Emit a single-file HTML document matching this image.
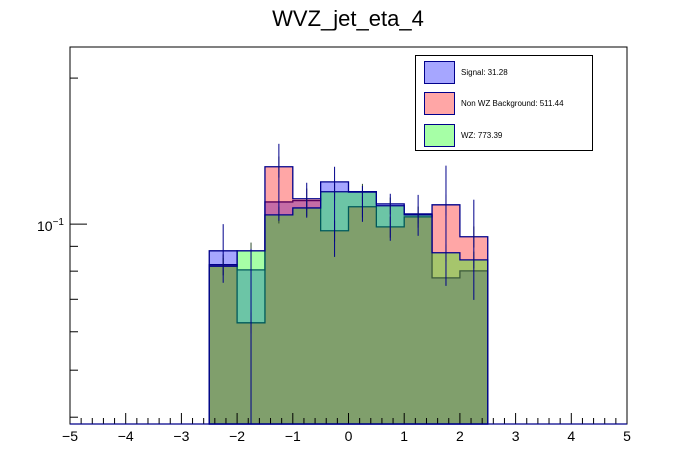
<!DOCTYPE html>
<html><head><meta charset="utf-8"><style>
body{margin:0;background:#fff;}
svg{display:block;font-family:"Liberation Sans",Arial,sans-serif;}
</style></head><body>
<svg id="c" width="696" height="472" viewBox="0 0 696 472">
<rect x="0" y="0" width="696" height="472" fill="#fff"/>
<text x="348" y="26" text-anchor="middle" font-size="22">WVZ_jet_eta_4</text>
<g id="plot"></g>
<rect x="70" y="47" width="557" height="377" fill="none" stroke="#000" stroke-width="1"/>
<g id="axes"></g>
<g>
<rect x="415.5" y="55.5" width="177" height="95" fill="#fff" stroke="#000"/>
<rect x="424.5" y="61.5" width="30" height="22" fill="rgb(166,166,255)" stroke="#00008b"/>
<text x="461" y="75" font-size="8">Signal: 31.28</text>
<rect x="424.5" y="92.5" width="30" height="22" fill="rgb(255,166,166)" stroke="#00008b"/>
<text x="461" y="106" font-size="8">Non WZ Background: 511.44</text>
<rect x="424.5" y="124.5" width="30" height="22" fill="rgb(166,255,166)" stroke="#00008b"/>
<text x="461" y="138" font-size="8">WZ: 773.39</text>
</g>
</svg>
<script>
const binEdges=[-2.5,-2,-1.5,-1,-0.5,0,0.5,1,1.5,2,2.5];
const signal=[0.0881,0.0805,0.1111,0.1118,0.1222,0.1167,0.1101,0.1050,0.0775,0.0801];
const background=[0.0825,0.0626,0.1313,0.1128,0.0969,0.1086,0.0987,0.1035,0.1096,0.0942];
const wz=[0.0819,0.0881,0.1045,0.1080,0.1166,0.1164,0.1091,0.1045,0.0873,0.0844];
const signalErrHi=[0.100,0.0889,0.1464,0.1217,0.1313,0.1199,0.1155,0.1149,0.132,0.1123];
const signalErrLo=[0.0757,0.03,0.1016,0.1031,0.0856,0.1011,0.0924,0.0946,0.0746,0.0698];
const xTicks=[-5,-4,-3,-2,-1,0,1,2,3,4,5];

const NS="http://www.w3.org/2000/svg";
const X0=70,X1=627,Y0=424,Y1=47;
const yMin=0.03873,yMax=0.2318;
function sx(v){return X0+(v+5)/10*(X1-X0);}
function sy(v){const y=Y0-(Math.log10(v)-Math.log10(yMin))/(Math.log10(yMax)-Math.log10(yMin))*(Y0-Y1);return Math.max(Y1,Math.min(Y0,y));}
function mk(tag,attrs,parent){const e=document.createElementNS(NS,tag);for(const k in attrs)e.setAttribute(k,attrs[k]);parent.appendChild(e);return e;}
const plot=document.getElementById('plot');
const axes=document.getElementById('axes');

function drawHist(vals,fill,name){
  let d="M"+sx(binEdges[0])+","+Y0;
  for(let i=0;i<vals.length;i++){d+=" L"+sx(binEdges[i])+","+sy(vals[i])+" L"+sx(binEdges[i+1])+","+sy(vals[i]);}
  d+=" L"+sx(binEdges[vals.length])+","+Y0+" Z";
  const p=mk('path',{d:d,fill:fill,stroke:'#00008b','stroke-width':1.3},plot);
  
  
}
drawHist(signal,'rgba(0,0,255,0.35)','signal-hist');
drawHist(background,'rgba(255,0,0,0.35)','background-hist');
drawHist(wz,'rgba(0,255,0,0.35)','wz-hist');

function errBars(lo,hi,color,name){
  for(let i=0;i<lo.length;i++){
    const c=sx((binEdges[i]+binEdges[i+1])/2);
    const l=mk('line',{x1:c,x2:c,y1:sy(hi[i]),y2:sy(lo[i]),stroke:color,'stroke-width':1},plot);
    
    
  }
}
errBars(background.map(v=>v*0.95),background.map(v=>v*1.05),'#333','background-error-bar');
errBars(wz.map(v=>v*0.96),wz.map(v=>v*1.04),'#2a4a2a','wz-error-bar');
errBars(signalErrLo,signalErrHi,'#00008b','signal-error-bar');

// x ticks
for(let v=-5;v<=5.0001;v+=0.2){
  const major=Math.abs(v-Math.round(v))<1e-6;
  const x=sx(v);
  const t=mk('line',{x1:x,x2:x,y1:Y0,y2:Y0-(major?11:6),stroke:'#000','stroke-width':1},axes);
  
  
}
mk('line',{x1:X0,x2:X1,y1:Y0,y2:Y0,stroke:'#00008b','stroke-width':1.3},axes);
xTicks.forEach(v=>{
  const t=mk('text',{x:sx(v),y:441,'text-anchor':'middle','font-size':14},axes);
  t.textContent=(v<0?'\u2212'+Math.abs(v):String(v));
  
  
});
// y ticks
const yMinor=[0.04,0.05,0.06,0.07,0.08,0.09,0.2];
yMinor.forEach(v=>{
  const t=mk('line',{x1:X0,x2:X0+8,y1:sy(v),y2:sy(v),stroke:'#000'},axes);
  
  
});
const ym=mk('line',{x1:X0,x2:X0+17,y1:sy(0.1),y2:sy(0.1),stroke:'#000'},axes);


const yl=mk('text',{x:37,y:sy(0.1)+7,'font-size':14},axes);
yl.innerHTML='10<tspan dy="-6" font-size="10">\u22121</tspan>';


</script>
</body></html>
